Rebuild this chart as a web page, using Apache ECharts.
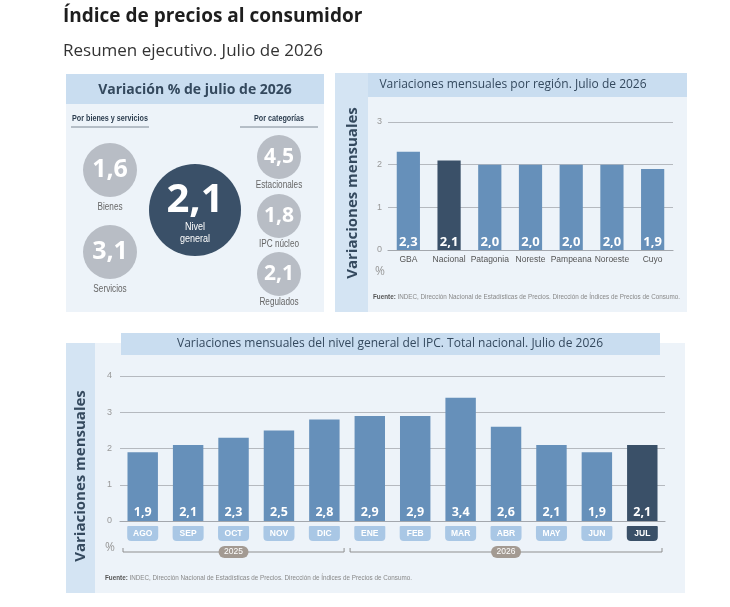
<!DOCTYPE html>
<html>
<head>
<meta charset="utf-8">
<script src="https://cdn.jsdelivr.net/npm/echarts@6/dist/echarts.min.js"></script>
<style>
html, body { margin: 0; padding: 0; background: #fff; }
#main { width: 730px; height: 607px; }
</style>
</head>
<body>
<div id="main"></div>
<script>
// datos
var regiones = ['GBA', 'Nacional', 'Patagonia', 'Noreste', 'Pampeana', 'Noroeste', 'Cuyo'];
var variacionRegion = [2.3, 2.1, 2.0, 2.0, 2.0, 2.0, 1.9];
var meses = ['AGO', 'SEP', 'OCT', 'NOV', 'DIC', 'ENE', 'FEB', 'MAR', 'ABR', 'MAY', 'JUN', 'JUL'];
var variacionMensual = [1.9, 2.1, 2.3, 2.5, 2.8, 2.9, 2.9, 3.4, 2.6, 2.1, 1.9, 2.1];
var anios = ['2025', '2026'];
var aniosDesde = [0, 5];
var aniosHasta = [4, 11];
var bienesServicios = ['Bienes', 'Servicios'];
var bienesServiciosValores = [1.6, 3.1];
var categorias = ['Estacionales', 'IPC núcleo', 'Regulados'];
var categoriasValores = [4.5, 1.8, 2.1];
var nivelGeneral = 2.1;
var ticksRegion = [0, 1, 2, 3];
var ticksMensual = [0, 1, 2, 3, 4];

var HEAD = '"Open Sans", "Noto Sans", sans-serif';
var NARROW = '"Liberation Sans", Arial, sans-serif';
var barColor = '#6690ba';
var darkColor = '#3a5068';
var lightBox = '#a9c7e5';
var panelBg = '#edf3f9';
var headerBg = '#c9ddf0';
var stripBg = '#d4e4f3';
var circleGray = '#b8bdc5';
var textDark = '#34495e';

function coma(v) {
    return v.toFixed(1).replace('.', ',');
}

// texto angosto (simula fuente condensada)
function narrowText(x, y, text, font, fill, sx) {
    return {
        type: 'text', x: x, y: y, scaleX: sx || 0.82,
        style: { text: text, font: font, fill: fill, textAlign: 'center', textVerticalAlign: 'middle' }
    };
}

var chart = echarts.init(document.getElementById('main'));

var fuente = '{b|Fuente:} INDEC, Dirección Nacional de Estadísticas de Precios. Dirección de Índices de Precios de Consumo.';

// graficos fijos: paneles y textos
var graphic = [
    { type: 'text', x: 63, y: 17, style: { text: 'Índice de precios al consumidor', font: 'bold 19px ' + HEAD, fill: '#1e1e1e', textVerticalAlign: 'middle' } },
    { type: 'text', x: 63, y: 51, style: { text: 'Resumen ejecutivo. Julio de 2026', font: '17px ' + HEAD, fill: '#333', textVerticalAlign: 'middle' } },

    // panel 1
    { type: 'rect', shape: { x: 66, y: 74, width: 258, height: 238 }, style: { fill: panelBg } },
    { type: 'rect', shape: { x: 66, y: 74, width: 258, height: 30 }, style: { fill: headerBg } },
    { type: 'text', x: 195, y: 90, style: { text: 'Variación % de julio de 2026', font: 'bold 14px ' + HEAD, fill: textDark, textAlign: 'center', textVerticalAlign: 'middle' } },
    narrowText(110, 119, 'Por bienes y servicios', 'bold 9px ' + NARROW, '#2d3e50', 0.8),
    { type: 'line', shape: { x1: 71, y1: 127, x2: 149, y2: 127 }, style: { stroke: '#7d8894', lineWidth: 1 } },
    narrowText(279, 119, 'Por categorías', 'bold 9px ' + NARROW, '#2d3e50', 0.8),
    { type: 'line', shape: { x1: 240, y1: 127, x2: 318, y2: 127 }, style: { stroke: '#7d8894', lineWidth: 1 } },
    { type: 'circle', shape: { cx: 195, cy: 210, r: 46 }, style: { fill: darkColor } },
    { type: 'text', x: 195, y: 201, style: { text: coma(nivelGeneral), font: 'bold 40px ' + HEAD, fill: '#fff', textAlign: 'center', textVerticalAlign: 'middle' } },
    narrowText(195, 227, 'Nivel', '11px ' + NARROW, '#fff'),
    narrowText(195, 239, 'general', '11px ' + NARROW, '#fff'),

    // panel 2
    { type: 'rect', shape: { x: 335, y: 73, width: 352, height: 239 }, style: { fill: panelBg } },
    { type: 'rect', shape: { x: 335, y: 73, width: 33, height: 239 }, style: { fill: stripBg } },
    { type: 'rect', shape: { x: 368, y: 73, width: 319, height: 24 }, style: { fill: headerBg } },
    { type: 'text', x: 513, y: 85, style: { text: 'Variaciones mensuales por región. Julio de 2026', font: '12px ' + HEAD, fill: textDark, textAlign: 'center', textVerticalAlign: 'middle' } },
    { type: 'text', x: 353, y: 193, rotation: Math.PI / 2, style: { text: 'Variaciones mensuales', font: 'bold 15px ' + HEAD, fill: textDark, textAlign: 'center', textVerticalAlign: 'middle' } },
    { type: 'text', x: 380, y: 272, style: { text: '%', font: '12px ' + HEAD, fill: '#999', textAlign: 'center', textVerticalAlign: 'middle' } },
    { type: 'text', x: 373, y: 297, style: { text: fuente, font: '6.3px ' + NARROW, fill: '#888', textVerticalAlign: 'middle', rich: { b: { fontWeight: 'bold', fill: '#555', fontSize: 6.3, fontFamily: NARROW } } } },

    // panel 3
    { type: 'rect', shape: { x: 66, y: 343, width: 619, height: 250 }, style: { fill: panelBg } },
    { type: 'rect', shape: { x: 66, y: 343, width: 29, height: 250 }, style: { fill: stripBg } },
    { type: 'rect', shape: { x: 121, y: 333, width: 539, height: 22 }, style: { fill: headerBg } },
    { type: 'text', x: 390, y: 344, style: { text: 'Variaciones mensuales del nivel general del IPC. Total nacional. Julio de 2026', font: '12px ' + HEAD, fill: textDark, textAlign: 'center', textVerticalAlign: 'middle' } },
    { type: 'text', x: 81, y: 476, rotation: Math.PI / 2, style: { text: 'Variaciones mensuales', font: 'bold 15px ' + HEAD, fill: textDark, textAlign: 'center', textVerticalAlign: 'middle' } },
    { type: 'text', x: 110, y: 548, style: { text: '%', font: '12px ' + HEAD, fill: '#999', textAlign: 'center', textVerticalAlign: 'middle' } },
    { type: 'text', x: 105, y: 578, style: { text: fuente, font: '6.3px ' + NARROW, fill: '#888', textVerticalAlign: 'middle', rich: { b: { fontWeight: 'bold', fill: '#555', fontSize: 6.3, fontFamily: NARROW } } } }
];

// circulos por bienes y servicios
var bsY = [170, 252];
bienesServicios.forEach(function (nombre, i) {
    graphic.push({ type: 'circle', shape: { cx: 110, cy: bsY[i], r: 27 }, style: { fill: circleGray } });
    graphic.push({ type: 'text', x: 110, y: bsY[i], style: { text: coma(bienesServiciosValores[i]), font: 'bold 25px ' + HEAD, fill: '#fff', textAlign: 'center', textVerticalAlign: 'middle' } });
    graphic.push(narrowText(110, bsY[i] + 37, nombre, '10px ' + NARROW, '#666'));
});
// circulos por categorias
var catY = [157, 216, 274];
categorias.forEach(function (nombre, i) {
    graphic.push({ type: 'circle', shape: { cx: 279, cy: catY[i], r: 22 }, style: { fill: circleGray } });
    graphic.push({ type: 'text', x: 279, y: catY[i], style: { text: coma(categoriasValores[i]), font: 'bold 21px ' + HEAD, fill: '#fff', textAlign: 'center', textVerticalAlign: 'middle' } });
    graphic.push(narrowText(279, catY[i] + 28, nombre, '10px ' + NARROW, '#666'));
});

var cajaMes = { width: 31, height: 15, lineHeight: 15, align: 'center', borderRadius: [1, 1, 4, 4], color: '#fff', fontWeight: 'bold', fontSize: 8.5, fontFamily: NARROW };

var option = {
    backgroundColor: '#fff',
    animation: false,
    graphic: graphic,
    grid: [
        { left: 388, right: 57, top: 122, bottom: 357 },
        { left: 120, right: 65, top: 376, bottom: 86 }
    ],
    xAxis: [
        {
            type: 'category', gridIndex: 0, data: regiones,
            axisLine: { lineStyle: { color: '#a3a7ad', width: 1.2 } },
            axisTick: { show: false },
            axisLabel: { interval: 0, color: '#555', fontSize: 8.5, fontFamily: NARROW, margin: 5 }
        },
        {
            type: 'category', gridIndex: 1, data: meses,
            axisLine: { lineStyle: { color: '#a3a7ad', width: 1.2 } },
            axisTick: { show: false },
            axisLabel: {
                interval: 0,
                margin: 5,
                formatter: function (v) {
                    return v === 'JUL' ? '{d|' + v + '}' : '{a|' + v + '}';
                },
                rich: {
                    a: Object.assign({ backgroundColor: lightBox }, cajaMes),
                    d: Object.assign({ backgroundColor: darkColor }, cajaMes)
                }
            }
        }
    ],
    yAxis: [
        {
            type: 'value', gridIndex: 0,
            min: ticksRegion[0], max: ticksRegion[ticksRegion.length - 1], interval: 1,
            axisLine: { show: false }, axisTick: { show: false },
            axisLabel: { color: '#999', fontSize: 9, fontFamily: NARROW, margin: 6 },
            splitLine: { lineStyle: { color: '#b5b9bf', width: 1.2 } }
        },
        {
            type: 'value', gridIndex: 1,
            min: ticksMensual[0], max: ticksMensual[ticksMensual.length - 1], interval: 1,
            axisLine: { show: false }, axisTick: { show: false },
            axisLabel: { color: '#999', fontSize: 9, fontFamily: NARROW, margin: 8 },
            splitLine: { lineStyle: { color: '#b5b9bf', width: 1.2 } }
        }
    ],
    series: [
        {
            type: 'bar', xAxisIndex: 0, yAxisIndex: 0,
            barWidth: '57%',
            data: variacionRegion.map(function (v, i) {
                return { value: v, itemStyle: { color: regiones[i] === 'Nacional' ? darkColor : barColor } };
            }),
            label: {
                show: true, position: 'insideBottom', distance: 1,
                formatter: function (p) { return coma(p.value); },
                color: '#fff', fontSize: 13, fontWeight: 'bold', fontFamily: HEAD
            }
        },
        {
            type: 'bar', xAxisIndex: 1, yAxisIndex: 1,
            barWidth: '67%',
            data: variacionMensual.map(function (v, i) {
                return { value: v, itemStyle: { color: meses[i] === 'JUL' ? darkColor : barColor } };
            }),
            label: {
                show: true, position: 'insideBottom', distance: 2,
                formatter: function (p) { return coma(p.value); },
                color: '#fff', fontSize: 12.5, fontWeight: 'bold', fontFamily: HEAD
            }
        },
        {
            // corchetes de años bajo los meses
            type: 'custom', xAxisIndex: 1, yAxisIndex: 1,
            clip: false, silent: true,
            data: anios.map(function (a, i) { return [aniosDesde[i], aniosHasta[i]]; }),
            renderItem: function (params, api) {
                var p0 = api.coord([api.value(0), 0]);
                var p1 = api.coord([api.value(1), 0]);
                var band = api.size([1, 0])[0];
                var x0 = p0[0] - band / 2 + 3;
                var x1 = p1[0] + band / 2 - 3;
                var y = p0[1] + 31;
                var mid = (x0 + x1) / 2;
                return {
                    type: 'group',
                    children: [
                        { type: 'polyline', shape: { points: [[x0, y - 4], [x0, y], [x1, y], [x1, y - 4]] }, style: { stroke: '#8f8f8f', lineWidth: 1, fill: null } },
                        { type: 'rect', shape: { x: mid - 15, y: y - 6, width: 30, height: 12, r: 6 }, style: { fill: '#a39a92' } },
                        { type: 'text', x: mid, y: y, style: { text: anios[params.dataIndex], font: '8.5px ' + NARROW, fill: '#fff', textAlign: 'center', textVerticalAlign: 'middle' } }
                    ]
                };
            }
        }
    ]
};

chart.setOption(option);
</script>
</body>
</html>
